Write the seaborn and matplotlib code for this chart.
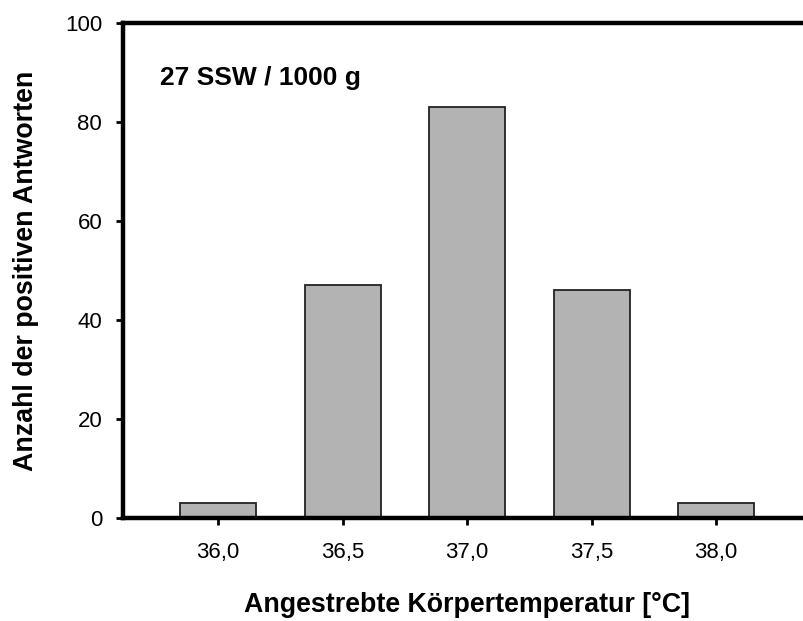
import matplotlib
matplotlib.use("Agg")
import matplotlib.pyplot as plt
import seaborn as sns
import pandas as pd

categories = ["36,0", "36,5", "37,0", "37,5", "38,0"]
counts = [3, 47, 83, 46, 3]
y_ticks = [0, 20, 40, 60, 80, 100]

sns.set_theme(style="white")
plt.rcParams["font.family"] = ["Liberation Sans", "DejaVu Sans"]
plt.rcParams["text.color"] = "black"
plt.rcParams["axes.labelcolor"] = "black"

df = pd.DataFrame({"temp": categories, "n": counts})

fig = plt.figure(figsize=(8.04, 6.21), dpi=100)
ax = fig.add_axes([0.153, 0.166, 0.856, 0.797])

sns.barplot(data=df, x="temp", y="n", order=categories, color="#b3b3b3",
            saturation=1, width=0.61, edgecolor="#222222", linewidth=1.3, ax=ax)

ax.set_xlim(-0.763, 4.763)
ax.set_ylim(0, 100)
ax.set_yticks(y_ticks)
ax.set_yticklabels([str(t) for t in y_ticks])

for s in ax.spines.values():
    s.set_visible(True)
    s.set_linewidth(3.2)
    s.set_color("black")

ax.tick_params(axis="both", which="major", direction="out", length=5, width=2,
               color="black", labelsize=16, labelcolor="black",
               bottom=True, left=True)
ax.tick_params(axis="x", pad=12)
ax.tick_params(axis="y", pad=10)

ax.set_xlabel("Angestrebte Körpertemperatur [°C]", fontsize=19.3, fontweight="bold",
              labelpad=21, color="black")
ax.set_ylabel("Anzahl der positiven Antworten", fontsize=19.3, fontweight="bold",
              labelpad=19, color="black")

ax.text(0.054, 0.888, "27 SSW / 1000 g", transform=ax.transAxes, fontsize=19,
        fontweight="bold", ha="left", va="center", color="black")

fig.savefig("out.png", dpi=100)
